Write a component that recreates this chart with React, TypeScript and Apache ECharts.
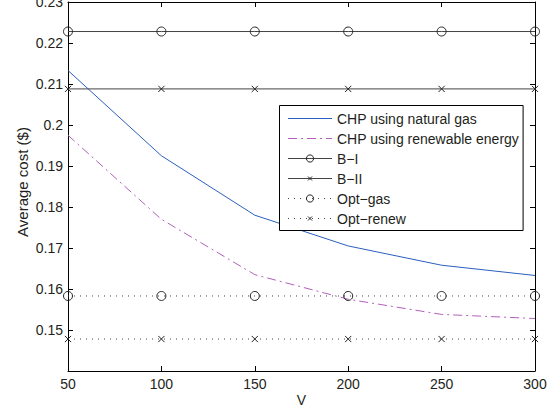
import React, { useEffect, useRef } from "react";
import * as echarts from "echarts";

const vValues = [50, 100, 150, 200, 250, 300];
const chpGas = [0.2133, 0.1925, 0.178, 0.1705, 0.1658, 0.1633];
const chpRenew = [0.1975, 0.177, 0.1635, 0.1575, 0.1538, 0.1528];
const bI = [0.2228, 0.2228, 0.2228, 0.2228, 0.2228, 0.2228];
const bII = [0.2088, 0.2088, 0.2088, 0.2088, 0.2088, 0.2088];
const optGas = [0.1583, 0.1583, 0.1583, 0.1583, 0.1583, 0.1583];
const optRenew = [0.1478, 0.1478, 0.1478, 0.1478, 0.1478, 0.1478];
const seriesNames = [
  "CHP using natural gas",
  "CHP using renewable energy",
  "B\u2212I",
  "B\u2212II",
  "Opt\u2212gas",
  "Opt\u2212renew",
];

const FONT = "Liberation Sans, Arial, Helvetica, sans-serif";
const TEXT = "#231f20";
const CROSS = "path://M0,0M16,16M3.5,3.5L12.5,12.5M12.5,3.5L3.5,12.5";

const pairs = (ys: number[]) => vValues.map((v, i) => [v, ys[i]]);

export default function App() {
  const ref = useRef<HTMLDivElement>(null);
  useEffect(() => {
    if (!ref.current) return;
    const chart = echarts.init(ref.current, undefined, { renderer: "svg" });
    const axisLine = { show: true, lineStyle: { color: "#000", width: 1 } };
    const tick = { show: true, inside: true, length: 5, lineStyle: { color: "#000", width: 1 } };
    const circleMarker = {
      symbol: "circle",
      symbolSize: 9,
      itemStyle: { color: "rgba(255,255,255,0)", borderColor: "#222", borderWidth: 1 },
    };
    const crossMarker = {
      symbol: CROSS,
      symbolSize: 11,
      itemStyle: { color: "none", borderColor: "#222", borderWidth: 1 },
    };
    const hiddenSymbol = { color: "rgba(0,0,0,0)", borderWidth: 0 };
    chart.setOption({
      animation: false,
      backgroundColor: "#fff",
      textStyle: { fontFamily: FONT, color: TEXT },
      grid: {
        left: 68,
        top: 2,
        width: 467,
        height: 369,
        containLabel: false,
        outerBoundsMode: "none",
      },
      legend: {
        orient: "vertical",
        left: 279.5,
        top: 105.5,
        padding: [6, 4, 5, 8],
        itemWidth: 44,
        itemHeight: 9,
        itemGap: 6,
        backgroundColor: "#fff",
        borderColor: "#000",
        borderWidth: 1,
        itemStyle: { borderWidth: 1 },
        lineStyle: { width: 1 },
        textStyle: { fontFamily: FONT, fontSize: 14, lineHeight: 14, color: TEXT },
        data: [
          { name: seriesNames[0], itemStyle: hiddenSymbol },
          { name: seriesNames[1], itemStyle: hiddenSymbol },
          { name: seriesNames[2] },
          { name: seriesNames[3] },
          { name: seriesNames[4] },
          { name: seriesNames[5] },
        ],
      },
      xAxis: [
        {
          type: "value",
          min: 50,
          max: 300,
          interval: 50,
          name: "V",
          nameLocation: "middle",
          nameGap: 22,
          nameMoveOverlap: false,
          nameTextStyle: { fontFamily: FONT, fontSize: 14, color: TEXT },
          axisLine,
          axisTick: tick,
          axisLabel: { fontFamily: FONT, fontSize: 14, color: TEXT, margin: 6 },
          splitLine: { show: false },
        },
        {
          type: "value",
          position: "top",
          min: 50,
          max: 300,
          interval: 50,
          axisLine,
          axisTick: tick,
          axisLabel: { show: false },
          splitLine: { show: false },
        },
      ],
      yAxis: [
        {
          type: "value",
          min: 0.14,
          max: 0.23,
          interval: 0.01,
          name: "Average cost ($)",
          nameLocation: "middle",
          nameGap: 38,
          nameMoveOverlap: false,
          nameTextStyle: { fontFamily: FONT, fontSize: 15, color: TEXT, padding: [0, 0, 0, 9] },
          axisLine,
          axisTick: tick,
          axisLabel: {
            fontFamily: FONT,
            fontSize: 14,
            color: TEXT,
            margin: 5,
            formatter: (v: number) => (Math.abs(v - 0.14) < 1e-6 ? "" : String(Math.round(v * 100) / 100)),
          },
          splitLine: { show: false },
        },
        {
          type: "value",
          position: "right",
          min: 0.14,
          max: 0.23,
          interval: 0.01,
          axisLine,
          axisTick: tick,
          axisLabel: { show: false },
          splitLine: { show: false },
        },
      ],
      series: [
        {
          name: seriesNames[0],
          type: "line",
          data: pairs(chpGas),
          showSymbol: false,
          symbol: "none",
          lineStyle: { color: "#2a5fbf", width: 1 },
          itemStyle: { color: "#2a5fbf" },
        },
        {
          name: seriesNames[1],
          type: "line",
          data: pairs(chpRenew),
          showSymbol: false,
          symbol: "none",
          lineStyle: { color: "#b35fbb", width: 1, type: [9, 4, 2, 4] },
          itemStyle: { color: "#b35fbb" },
        },
        {
          name: seriesNames[2],
          type: "line",
          data: pairs(bI),
          ...circleMarker,
          lineStyle: { color: "#444", width: 1 },
        },
        {
          name: seriesNames[3],
          type: "line",
          data: pairs(bII),
          ...crossMarker,
          lineStyle: { color: "#444", width: 1 },
        },
        {
          name: seriesNames[4],
          type: "line",
          data: pairs(optGas),
          ...circleMarker,
          lineStyle: { color: "#444", width: 1, type: [1, 5] },
        },
        {
          name: seriesNames[5],
          type: "line",
          data: pairs(optRenew),
          ...crossMarker,
          lineStyle: { color: "#444", width: 1, type: [1, 5] },
        },
      ],
    });
    return () => chart.dispose();
  }, []);
  return (
    <div
      ref={ref}
      style={{ position: "fixed", left: 0, top: 0, width: 557, height: 413 }}
    />
  );
}
